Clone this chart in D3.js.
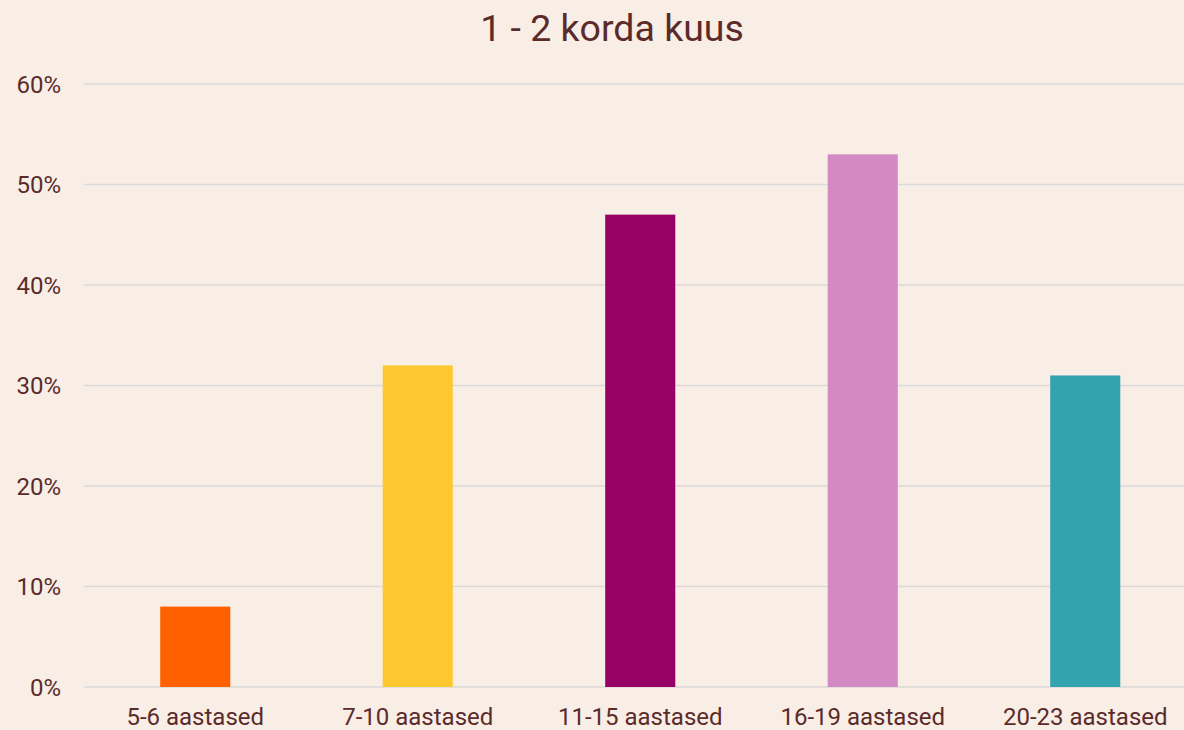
<!DOCTYPE html>
<html><head><meta charset="utf-8">
<script src="https://cdn.jsdelivr.net/npm/d3@7"></script>
<style>html,body{margin:0;padding:0;background:#F9EEE5;overflow:hidden}</style>
</head><body>
<svg id="c" width="1184" height="730"></svg>
<script>
const title = "1 - 2 korda kuus";
const categories = ["5-6 aastased","7-10 aastased","11-15 aastased","16-19 aastased","20-23 aastased"];
const values = [0.08, 0.32, 0.47, 0.53, 0.31];
const colors = ["#FF6000","#FDC82F","#970064","#D389C4","#33A3AF"];
const yTicks = [0, 0.1, 0.2, 0.3, 0.4, 0.5, 0.6];

const svg = d3.select("#c");
const W = 1184, H = 730;
const m = {left: 84, right: -12.5, top: 84, bottom: 43};
const textColor = "#5B2B2B";
svg.append("rect").attr("width", W).attr("height", H).attr("fill", "#F9EEE5");

const x = d3.scaleBand().domain(categories).range([m.left, W - m.right]).paddingInner(0.685).paddingOuter(0.3425);
const y = d3.scaleLinear().domain([0, 0.6]).range([H - m.bottom, m.top]);

svg.append("g").selectAll("line").data(yTicks).join("line")
  .attr("x1", m.left).attr("x2", W).attr("y1", d => y(d)).attr("y2", d => y(d))
  .attr("stroke", "#D9D9D9").attr("stroke-width", 1.5);

const yAxis = d3.axisLeft(y).tickValues(yTicks).tickFormat(d3.format(".0%")).tickSize(0).tickPadding(0);
const ga = svg.append("g").attr("transform", `translate(61,0)`).call(yAxis);
ga.select(".domain").remove();
ga.selectAll("text").attr("fill", textColor).style("font-family", "Roboto").style("font-size", "24px").attr("dy", "0.35em");

svg.append("g").selectAll("rect").data(categories).join("rect")
  .attr("x", d => x(d)).attr("width", x.bandwidth())
  .attr("y", (d, i) => y(values[i])).attr("height", (d, i) => y(0) - y(values[i]))
  .attr("fill", (d, i) => colors[i]);

const xAxis = d3.axisBottom(x).tickSize(0).tickPadding(0);
const gx = svg.append("g").attr("transform", `translate(0,${H - m.bottom})`).call(xAxis);
gx.select(".domain").remove();
gx.selectAll("text").attr("fill", textColor).style("font-family", "Roboto").style("font-size", "24px").attr("dy", null).attr("y", 38);

svg.append("text").attr("x", 612).attr("y", 41).attr("text-anchor", "middle")
  .attr("fill", textColor).style("font-family", "Roboto").style("font-size", "37.5px").text(title);
</script>
</body></html>
